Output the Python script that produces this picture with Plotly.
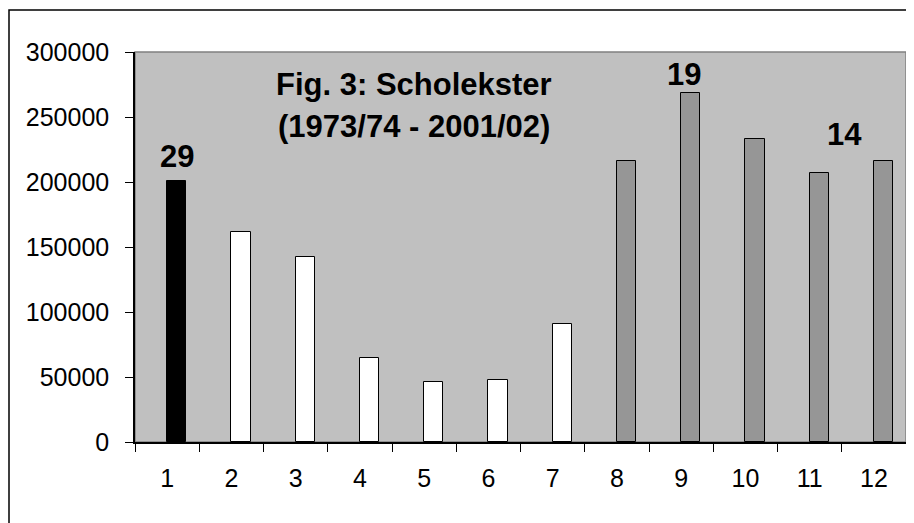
import plotly.graph_objects as go

categories = ["1", "2", "3", "4", "5", "6", "7", "8", "9", "10", "11", "12"]
values = [201000, 161300, 142600, 64400, 46400, 47700, 90500,
          216400, 268200, 233100, 206900, 216400]
bar_colors = ["#000000"] + ["#ffffff"] * 6 + ["#969696"] * 5
title_lines = ["Fig. 3: Scholekster", "(1973/74 - 2001/02)"]
count_labels = ["29", "19", "14"]

FONT = "Liberation Sans, Arial, sans-serif"
OFF = 8  # page body margin offset
# target pixel geometry in the 914x523 window
PL, PR, PT, PB = 135, 906, 52, 442
W, H = 914 - OFF, 523 - OFF
L, T = PL - OFF, PT - OFF
R = W - (PR - OFF)
B = H - (PB - OFF)
PW, PH = PR - PL, PB - PT


def px(x):
    return (x - PL) / PW


def py(y):
    return (PB - y) / PH


fig = go.Figure()
fig.add_trace(go.Bar(
    x=categories, y=values,
    marker=dict(color=bar_colors, line=dict(color="black", width=1)),
    width=0.3, offset=0,
    hoverinfo="x+y",
))

annotations = []
for txt, yc in zip(title_lines, [84, 126]):
    annotations.append(dict(text="<b>%s</b>" % txt, x=px(414), y=py(yc),
                            xref="paper", yref="paper", showarrow=False,
                            xanchor="center", yanchor="middle",
                            font=dict(family=FONT, size=31, color="black")))
for txt, (xc, yc) in zip(count_labels, [(176.5, 156), (684, 74), (844, 134)]):
    annotations.append(dict(text="<b>%s</b>" % txt, x=px(xc), y=py(yc),
                            xref="paper", yref="paper", showarrow=False,
                            xanchor="center", yanchor="middle",
                            font=dict(family=FONT, size=31, color="black")))

shapes = [
    dict(type="rect", xref="paper", yref="paper", x0=0, x1=1, y0=0, y1=1,
         line=dict(color="#808080", width=1.5), layer="below"),
    dict(type="rect", xref="paper", yref="paper",
         x0=px(OFF + 1), x1=px(960), y0=py(560), y1=py(10),
         line=dict(color="black", width=1.5)),
]

fig.update_layout(
    width=W, height=H,
    margin=dict(l=L, r=R, t=T, b=B, pad=0),
    paper_bgcolor="white", plot_bgcolor="#c0c0c0",
    showlegend=False,
    font=dict(family=FONT, size=25, color="black"),
    annotations=annotations, shapes=shapes,
    bargap=0,
    xaxis=dict(type="category", range=[-0.5, 11.5], tickson="boundaries",
               ticks="outside", ticklen=8, tickcolor="black", tickwidth=1,
               showline=True, linecolor="black", linewidth=1.5,
               showgrid=False, zeroline=False, ticklabelstandoff=13,
               tickfont=dict(family=FONT, size=25, color="black")),
    yaxis=dict(range=[0, 300000], dtick=50000, tickformat="d",
               ticks="outside", ticklen=8, tickcolor="black", tickwidth=1,
               showline=True, linecolor="black", linewidth=1.5,
               showgrid=False, zeroline=False, ticklabelstandoff=11,
               tickfont=dict(family=FONT, size=25, color="black")),
)

fig.write_html("out.html")
